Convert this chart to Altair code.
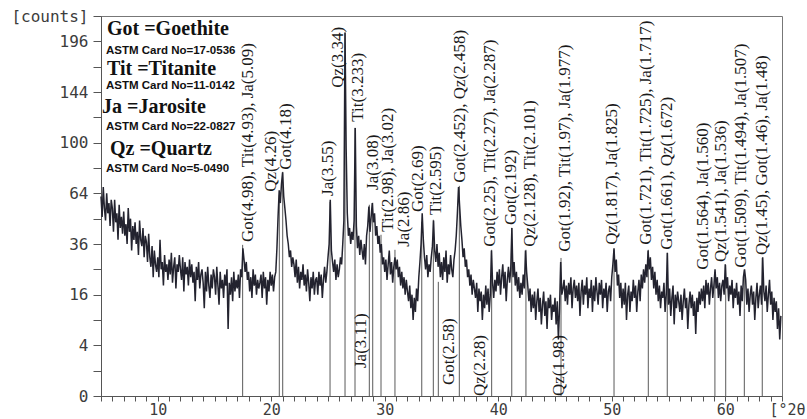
import altair as alt
import pandas as pd

# ---- diffraction pattern (counts every 0.1 deg 2-theta, from 5.0) ----
counts = [
    62, 50, 68, 55, 48, 64, 52, 58, 45, 60,
    55, 42, 60, 47, 52, 38, 57, 44, 50, 41,
    53, 40, 46, 36, 55, 42, 49, 33, 45, 38,
    47, 36, 42, 31, 48, 38, 35, 44, 30, 40,
    37, 28, 41, 30, 26, 35, 22, 33, 27, 24,
    30, 22, 38, 25, 28, 19, 31, 24, 27, 21,
    29, 23, 32, 20, 26, 30, 18, 27, 24, 31,
    25, 21, 30, 17, 28, 23, 26, 19, 29, 22,
    27, 20, 24, 14, 26, 21, 28, 18, 23, 25,
    20, 12, 24, 17, 26, 19, 15, 23, 18, 25,
    22, 16, 26, 19, 13, 24, 18, 21, 15, 23,
    19, 25, 7, 20, 16, 22, 14, 24, 17, 21,
    18, 23, 15, 25, 22, 34, 29, 24, 28, 21,
    24, 17, 22, 15, 25, 19, 23, 16, 21, 18,
    20, 23, 15, 24, 18, 22, 13, 21, 17, 24,
    19, 23, 17, 22, 24, 34, 50, 66, 58, 70,
    78, 62, 55, 48, 40, 36, 30, 33, 26, 30,
    27, 22, 29, 20, 26, 18, 24, 21, 27, 19,
    23, 17, 25, 20, 14, 22, 18, 24, 16, 21,
    22, 16, 24, 19, 23, 15, 21, 26, 20, 24,
    30, 36, 60, 33, 28, 24, 29, 21, 27, 22,
    25, 30, 27, 36, 48, 206, 95, 52, 40, 44,
    36, 42, 38, 48, 112, 45, 34, 40, 31, 38,
    33, 29, 36, 27, 40, 45, 56, 42, 50, 58,
    47, 52, 40, 45, 36, 40, 32, 36, 27, 30,
    24, 29, 21, 27, 33, 23, 28, 20, 26, 30,
    25, 29, 22, 26, 19, 24, 18, 22, 16, 21,
    17, 14, 19, 12, 16, 9, 15, 11, 18, 14,
    22, 28, 36, 52, 38, 30, 25, 31, 22, 27,
    24, 30, 35, 48, 33, 28, 36, 26, 32, 22,
    28, 21, 30, 24, 33, 20, 27, 23, 31, 25,
    22, 29, 33, 40, 52, 68, 56, 45, 38, 30,
    34, 26, 29, 22, 25, 19, 23, 16, 21, 18,
    15, 20, 11, 18, 14, 17, 9, 16, 12, 19,
    13, 18, 11, 16, 33, 20, 15, 21, 17, 24,
    19, 25, 16, 22, 27, 18, 24, 14, 21, 26,
    20, 25, 44, 22, 28, 19, 24, 17, 22, 15,
    20, 16, 23, 18, 33, 24, 19, 14, 18, 11,
    16, 12, 17, 9, 14, 18, 11, 15, 8, 13,
    17, 10, 14, 7, 15, 12, 16, 9, 13, 11,
    15, 8, 14, 5, 12, 28, 16, 18, 21, 14,
    19, 13, 20, 16, 22, 12, 18, 21, 15, 19,
    14, 20, 10, 17, 21, 13, 19, 16, 22, 12,
    18, 15, 21, 11, 19, 14, 22, 17, 13, 20,
    16, 21, 12, 18, 15, 20, 11, 17, 19, 14,
    22, 27, 34, 24, 29, 19, 23, 15, 20, 12,
    18, 13, 20, 9, 16, 19, 11, 17, 14, 21,
    15, 19, 11, 17, 21, 14, 23, 18, 25, 20,
    27, 22, 33, 25, 30, 21, 26, 18, 24, 16,
    21, 14, 19, 12, 17, 15, 20, 11, 16, 32,
    13, 18, 10, 15, 19, 8, 16, 12, 17, 14,
    11, 16, 9, 14, 18, 12, 15, 7, 13, 17,
    12, 16, 10, 14, 6, 15, 11, 17, 13, 18,
    14, 19, 12, 21, 16, 20, 13, 18, 22, 15,
    19, 25, 18, 22, 15, 20, 14, 19, 21, 16,
    27, 18, 22, 14, 19, 16, 21, 12, 18, 15,
    20, 13, 17, 10, 19, 14, 22, 25, 21, 13,
    18, 11, 16, 19, 13, 17, 9, 15, 20, 12,
    16, 19, 13, 30, 17, 14, 19, 11, 16, 21,
    13, 17, 9, 15, 11, 14, 7, 12, 5, 10,
]
two_theta = [round(5.0 + 0.1 * i, 1) for i in range(len(counts))]

# ---- reflection marker lines (2-theta, top in counts) ----
line_pos = [17.48, 20.71, 21.01, 25.18, 26.50, 27.38, 28.64, 28.94, 29.67, 30.90,
            33.26, 34.28, 34.72, 36.57, 39.42, 41.19, 42.44, 45.53, 50.20, 53.22,
            54.89, 59.09, 60.04, 61.68, 63.26]
line_top = [35.6, 63.1, 78.3, 58.8, 205.7, 112.1, 57.0, 58.2, 40.5, 33.3,
            47.3, 48.4, 20.3, 68.8, 33.3, 44.1, 33.3, 29.7, 33.3, 33.3,
            31.9, 24.0, 26.8, 24.8, 29.7]

# ---- phase labels (text start position) ----
label_text = [
    "Got(4.98), Tit(4.93), Ja(5.09)", "Qz(4.26)", "Got(4.18)", "Ja(3.55)",
    "Qz(3.34)", "Tit(3.233)", "Ja(3.08)", "Tit(2.98), Ja(3.02)", "Ja(2.86)",
    "Got(2.69)", "Tit(2.595)", "Got(2.452), Qz(2.458)",
    "Got(2.25), Tit(2.27), Ja(2.287)", "Got(2.192)", "Qz(2.128), Tit(2.101)",
    "Got(1.92), Tit(1.97), Ja(1.977)", "Qz(1.817), Ja(1.825)",
    "Got(1.721), Tit(1.725), Ja(1.717)", "Got(1.661), Qz(1.672)",
    "Got(1.564),  Ja(1.560)", "Qz(1.541), Ja(1.536)",
    "Got(1.509), Tit(1.494), Ja(1.507)", "Qz(1.45), Got(1.46), Ja(1.48)",
    "Ja(3.11)", "Got(2.58)", "Qz(2.28)", "Qz(1.98)",
]
label_x = [17.95, 19.98, 21.30, 25.00, 25.88, 27.64, 28.96, 30.29, 31.70,
           32.93, 34.52, 36.63, 39.27, 41.12, 42.80, 45.88, 50.02, 53.02,
           54.87, 58.04, 59.63, 61.39, 63.24, 27.91, 35.66, 38.39, 45.35]
label_y = [37.0, 65.0, 79.7, 62.4, 148.1, 117.2, 66.2, 42.0, 34.7,
           52.8, 51.1, 70.8, 34.7, 45.6, 34.7, 32.4, 35.6, 35.6,
           33.3, 24.8, 28.0, 25.6, 31.0, 1.22, 0.19, 0.0, 0.0]

legend_lines = [
    "Got =Goethite", "ASTM Card No=17-0536",
    "Tit =Titanite", "ASTM Card No=11-0142",
    "Ja =Jarosite", "ASTM Card No=22-0827",
    "Qz =Quartz", "ASTM Card No=5-0490",
]

pattern = pd.DataFrame({"t": two_theta, "c": counts})
lines = pd.DataFrame({"t": line_pos, "c": line_top})
labels = pd.DataFrame({"t": label_x, "c": label_y, "txt": label_text})

W, H = 681, 380
xs = alt.Scale(domain=[5, 65], nice=False, zero=False)
ys = alt.Scale(type="sqrt", domain=[0, 225], nice=False)

MONO = "DejaVu Sans Mono"
AX_COL = "#555555"
LAB_COL = "#3c3c3c"

x_axis = alt.Axis(
    values=list(range(5, 66)), tickCount=200,
    labelExpr="datum.value % 10 == 0 && datum.value < 65 ? datum.label : ''",
    format="d", tickSize=5, labelPadding=13, labelBaseline="alphabetic",
    grid=False,
    labelFont=MONO, labelFontSize=15, labelColor=LAB_COL,
    labelOverlap=False, labelBound=False, labelFlush=False,
    domainColor=AX_COL, tickColor=AX_COL,
    title="[°2θ", titleFont=MONO, titleFontSize=15, titleFontWeight="normal",
    titleColor=LAB_COL, titleAngle=0, titleX=668, titleY=18,
    titleAlign="left", titleBaseline="alphabetic",
)
y_axis = alt.Axis(
    values=[0, 1, 4, 9, 16, 25, 36, 49, 64, 81, 100, 121, 144, 169, 196, 225],
    tickCount=200,
    labelExpr="datum.value == 225 ? '[counts]' : (sqrt(datum.value) % 2 == 0 ? datum.label : '')",
    format="d", tickSize=8, labelPadding=5, grid=False,
    labelFont=MONO, labelFontSize=16, labelColor=LAB_COL,
    labelOverlap=False, labelBound=False, labelFlush=False,
    domainColor=AX_COL, tickColor=AX_COL,
    title=None,
)

rules = alt.Chart(lines).mark_rule(color="#5a5a5a", strokeWidth=1).encode(
    x=alt.X("t:Q", scale=xs, axis=x_axis),
    y=alt.Y("c:Q", scale=ys, axis=y_axis),
    y2=alt.datum(0),
)

trace = alt.Chart(pattern).mark_line(color="#23232f", strokeWidth=1.5).encode(
    x=alt.X("t:Q", scale=xs),
    y=alt.Y("c:Q", scale=ys),
)

peak_text = alt.Chart(labels).mark_text(
    angle=270, align="left", baseline="middle",
    font="Liberation Serif", fontSize=17, color="#1a1a1a",
).encode(
    x=alt.X("t:Q", scale=xs),
    y=alt.Y("c:Q", scale=ys),
    text="txt:N",
)

legend_layers = []
leg_x = [6, 5, 6, 5, 1, 5, 9, 5]
leg_y = [19, 38, 59, 72.5, 97, 114, 139, 155.5]
for i, s in enumerate(legend_lines):
    big = i % 2 == 0
    legend_layers.append(
        alt.Chart(pd.DataFrame({"s": [s]})).mark_text(
            align="left", baseline="alphabetic",
            font="Liberation Serif" if big else "Liberation Sans",
            fontSize=20 if big else 11.5, fontWeight="bold", color="#111111",
        ).encode(x=alt.value(leg_x[i]), y=alt.value(leg_y[i]), text="s:N")
    )

chart = alt.layer(rules, trace, peak_text, *legend_layers).properties(
    width=W, height=H,
    padding={"left": 101, "top": 16, "right": 25, "bottom": 23},
    autosize=alt.AutoSizeParams(type="none"),
    background="white",
).configure_view(stroke="#777777", strokeWidth=1)

chart.save("out.html", embed_options={"renderer": "svg", "actions": False})
